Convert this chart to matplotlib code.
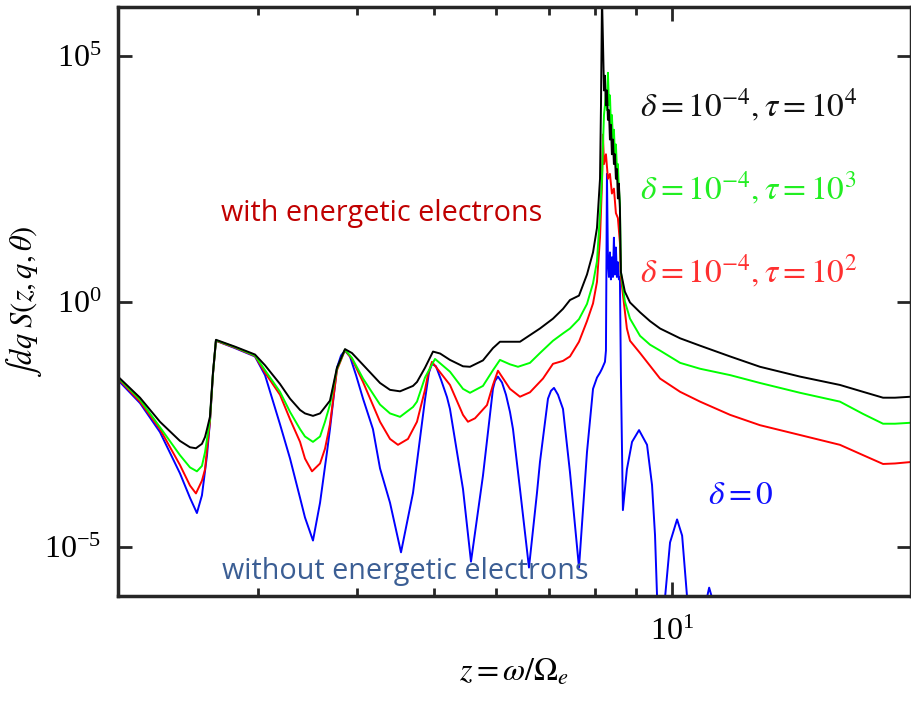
import numpy as np
import matplotlib.pyplot as plt
from matplotlib.ticker import FixedLocator, LogLocator, NullLocator, NullFormatter

plt.rcParams['font.family'] = ['Liberation Serif', 'DejaVu Serif']
plt.rcParams['mathtext.fontset'] = 'stix'

# z = omega/Omega_e and log10 of the integrated spectrum
z_black = [2.000, 2.132, 2.259, 2.394, 2.465, 2.508, 2.552, 2.575, 2.590, 2.612, 2.635, 2.658,
           2.809, 2.977, 3.065, 3.201, 3.296, 3.393, 3.442, 3.523, 3.596, 3.669, 3.701, 3.777,
           3.866, 3.945, 4.074, 4.280, 4.406, 4.536, 4.710, 4.765, 4.877, 4.992, 5.096, 5.244,
           5.446, 5.558, 5.771, 5.941, 6.063, 6.426, 6.810, 7.072, 7.281, 7.430, 7.627, 7.806,
           7.944, 8.036, 8.107, 8.130, 8.154, 8.177, 8.201, 8.224, 8.248, 8.272, 8.296, 8.320,
           8.344, 8.368, 8.392, 8.417, 8.441, 8.465, 8.490, 8.515, 8.539, 8.564, 8.589, 8.614,
           8.714, 8.845, 9.106, 9.374, 9.651, 10.23, 10.84, 11.83, 12.90, 14.49, 16.27, 17.40,
           18.44, 19.09, 20.0]
logS_black = [-1.53, -1.96, -2.45, -2.84, -2.97, -2.99, -2.90, -2.76, -2.60, -2.35, -1.45, -0.78,
              -0.92, -1.08, -1.30, -1.68, -1.98, -2.21, -2.28, -2.33, -2.28, -2.10, -2.02, -1.35,
              -0.97, -1.05, -1.29, -1.66, -1.80, -1.83, -1.72, -1.64, -1.35, -1.02, -1.06, -1.19,
              -1.32, -1.33, -1.20, -0.95, -0.82, -0.82, -0.55, -0.35, -0.15, 0.03, 0.12, 0.55,
              1.00, 1.50, 2.50, 4.00, 6.20, 5.30, 4.30, 4.60, 4.00, 4.30, 3.70, 3.90,
              3.30, 3.60, 3.00, 3.30, 2.80, 3.00, 2.50, 2.70, 2.10, 2.40, 1.90, 0.60,
              0.20, -0.02, -0.22, -0.40, -0.55, -0.75, -0.90, -1.12, -1.33, -1.53, -1.70, -1.84,
              -1.96, -1.96, -1.94]

z_green = [2.000, 2.132, 2.259, 2.394, 2.465, 2.515, 2.552, 2.575, 2.590, 2.612, 2.635, 2.658,
           2.809, 2.977, 3.065, 3.201, 3.296, 3.393, 3.442, 3.523, 3.596, 3.648, 3.701, 3.777,
           3.866, 3.945, 4.074, 4.280, 4.406, 4.536, 4.710, 4.765, 4.877, 5.021, 5.244, 5.446,
           5.558, 5.771, 5.941, 6.063, 6.242, 6.389, 6.615, 6.810, 7.072, 7.281, 7.430, 7.627,
           7.806, 7.944, 8.036, 8.107, 8.154, 8.177, 8.201, 8.224, 8.248, 8.272, 8.296, 8.320,
           8.344, 8.368, 8.392, 8.417, 8.441, 8.465, 8.490, 8.515, 8.539, 8.564, 8.589, 8.614,
           8.714, 8.845, 9.106, 9.374, 9.651, 10.23, 10.84, 11.83, 12.90, 14.49, 16.27, 17.40,
           18.44, 19.09, 20.0]
logS_green = [-1.55, -2.00, -2.56, -3.13, -3.38, -3.46, -3.35, -3.07, -2.80, -2.40, -1.47, -0.79,
              -0.93, -1.10, -1.40, -1.84, -2.25, -2.60, -2.75, -2.86, -2.75, -2.45, -2.10, -1.37,
              -0.98, -1.15, -1.57, -2.10, -2.28, -2.35, -2.15, -2.04, -1.55, -1.17, -1.43, -1.78,
              -1.86, -1.72, -1.40, -1.19, -1.28, -1.33, -1.25, -1.05, -0.80, -0.65, -0.55, -0.36,
              -0.05, 0.37, 0.82, 1.78, 2.50, 3.20, 3.80, 4.00, 4.30, 3.90, 4.66, 4.00,
              4.20, 3.60, 3.80, 3.30, 3.50, 3.00, 3.20, 2.70, 2.80, 2.30, 2.00, 0.60,
              0.00, -0.35, -0.70, -0.88, -1.00, -1.25, -1.37, -1.50, -1.66, -1.86, -2.04, -2.29,
              -2.49, -2.49, -2.47]

z_red = [2.000, 2.132, 2.259, 2.394, 2.465, 2.508, 2.552, 2.575, 2.590, 2.612, 2.635, 2.658,
         2.809, 2.977, 3.065, 3.201, 3.296, 3.393, 3.442, 3.513, 3.596, 3.648, 3.701, 3.777,
         3.866, 3.945, 4.074, 4.280, 4.406, 4.509, 4.642, 4.765, 4.877, 4.919, 4.977, 5.244,
         5.446, 5.525, 5.639, 5.839, 5.941, 6.028, 6.242, 6.426, 6.615, 6.870, 7.072, 7.281,
         7.430, 7.627, 7.806, 7.944, 8.036, 8.107, 8.154, 8.177, 8.201, 8.248, 8.296, 8.344,
         8.392, 8.441, 8.490, 8.539, 8.589, 8.614, 8.714, 8.765, 8.845, 9.106, 9.651, 10.23,
         10.84, 11.83, 12.90, 14.49, 16.27, 17.40, 18.44, 19.09, 20.0]
logS_red = [-1.57, -2.04, -2.60, -3.33, -3.75, -3.91, -3.65, -3.42, -3.00, -2.45, -1.48, -0.80,
            -0.94, -1.11, -1.45, -1.90, -2.40, -2.86, -3.20, -3.46, -3.30, -3.00, -2.50, -1.40,
            -0.99, -1.17, -1.64, -2.45, -2.80, -2.92, -2.80, -2.45, -1.80, -1.49, -1.23, -1.70,
            -2.31, -2.45, -2.38, -2.11, -1.70, -1.41, -1.78, -1.94, -1.85, -1.57, -1.27, -1.21,
            -1.12, -0.82, -0.40, -0.04, 0.40, 1.30, 2.40, 3.40, 2.80, 3.00, 2.50, 2.60,
            2.20, 2.30, 1.80, 1.70, 1.20, 0.50, -0.20, -0.55, -0.80, -1.05, -1.57, -1.84,
            -2.04, -2.31, -2.52, -2.72, -2.92, -3.13, -3.31, -3.30, -3.27]

z_blue = [2.000, 2.132, 2.259, 2.394, 2.465, 2.515, 2.552, 2.590, 2.612, 2.635, 2.658,
          2.809, 2.977, 3.065, 3.201, 3.296, 3.393, 3.442, 3.523, 3.596, 3.669, 3.701, 3.777,
          3.822, 3.866, 3.922, 3.992, 4.074, 4.193, 4.280, 4.406, 4.549, 4.710, 4.765, 4.877,
          4.933, 4.977, 5.035, 5.111, 5.199, 5.244, 5.446, 5.574, 5.771, 5.941, 5.976, 6.028,
          6.099, 6.170, 6.242, 6.297, 6.426, 6.596, 6.751, 6.810, 6.970, 7.031, 7.093, 7.176,
          7.281, 7.430, 7.627, 7.806, 7.944, 8.036, 8.107, 8.154, 8.224, 8.248, 8.272, 8.296,
          8.320, 8.344, 8.368, 8.392, 8.417, 8.441, 8.465, 8.490, 8.515, 8.539, 8.564, 8.589,
          8.614, 8.664, 8.765, 8.897, 9.080, 9.293, 9.429, 9.511, 9.567, 9.679, 9.792, 9.935,
          10.14, 10.29, 10.44, 10.68, 11.06, 11.13, 11.22, 11.49, 20.0]
logS_blue = [-1.60, -2.07, -2.66, -3.50, -4.00, -4.31, -3.95, -3.13, -2.45, -1.48, -0.80,
             -0.95, -1.12, -1.50, -2.50, -3.20, -4.00, -4.40, -4.87, -4.10, -3.07, -2.60, -1.35,
             -1.10, -1.00, -1.12, -1.50, -1.98, -2.60, -3.40, -4.10, -5.11, -3.90, -3.27, -2.00,
             -1.45, -1.27, -1.32, -1.60, -1.95, -2.19, -3.82, -5.30, -3.55, -1.78, -1.62, -1.53,
             -1.65, -1.90, -2.25, -2.60, -3.82, -5.42, -3.90, -3.27, -1.98, -1.82, -1.76, -1.90,
             -2.19, -3.48, -5.42, -3.07, -1.78, -1.55, -1.45, -1.37, -1.23, -1.00, 2.60, 0.80,
             0.50, 1.00, 0.45, 0.90, 0.50, 1.30, 0.55, 1.10, 0.50, 0.80, 0.45, 0.50,
             -1.50, -4.25, -3.42, -2.86, -2.62, -2.92, -3.74, -4.76, -6.00, -8.00, -6.03, -4.91,
             -4.44, -4.77, -6.03, -8.00, -6.03, -5.83, -6.03, -8.00, -9.00]

fig = plt.figure(figsize=(9.12, 7.02), dpi=100)
ax = fig.add_axes([118/912, 1 - 596/702, 793/912, 589/702])

ax.plot(z_blue, 10.0 ** np.array(logS_blue), color='#0000ff', lw=1.4)
ax.plot(z_red, 10.0 ** np.array(logS_red), color='#ff0000', lw=1.4)
ax.plot(z_green, 10.0 ** np.array(logS_green), color='#00ff00', lw=1.4)
ax.plot(z_black, 10.0 ** np.array(logS_black), color='#000000', lw=1.4)

ax.set_xscale('log')
ax.set_yscale('log')
ax.set_xlim(2, 20)
ax.set_ylim(1e-6, 1e6)

ax.yaxis.set_major_locator(FixedLocator([1e-5, 1e0, 1e5]))
ax.yaxis.set_minor_locator(NullLocator())
ax.xaxis.set_major_locator(FixedLocator([10]))
ax.xaxis.set_minor_locator(LogLocator(base=10, subs=np.arange(2, 10), numticks=20))
ax.xaxis.set_minor_formatter(NullFormatter())

ax.tick_params(which='both', direction='in', top=True, right=True, width=2, color='#262626',
               labelsize=23)
ax.tick_params(which='major', length=10)
ax.tick_params(which='minor', length=6)
ax.tick_params(axis='y', pad=12)
ax.tick_params(axis='x', pad=16)
for s in ax.spines.values():
    s.set_linewidth(2.5)
    s.set_color('#262626')

ax.set_xlabel(r'$z = \omega/\Omega_e$', fontsize=23)
ax.set_ylabel(r'$\int dq\; S(z,q,\theta)$', fontsize=22)
ax.xaxis.set_label_coords(0.5, -0.105)
ax.yaxis.set_label_coords(-0.093, 0.5)

ax.text(0.658, 0.834, r'$\delta = 10^{-4}, \tau = 10^{4}$', color='#111111', fontsize=24,
        transform=ax.transAxes, va='center')
ax.text(0.658, 0.693, r'$\delta = 10^{-4}, \tau = 10^{3}$', color='#22ee22', fontsize=24,
        transform=ax.transAxes, va='center')
ax.text(0.658, 0.553, r'$\delta = 10^{-4}, \tau = 10^{2}$', color='#ff3030', fontsize=24,
        transform=ax.transAxes, va='center')
ax.text(0.744, 0.171, r'$\delta = 0$', color='#1010ff', fontsize=24,
        transform=ax.transAxes, va='center')

ax.text(0.333, 0.650, 'with energetic electrons', color='#c00000', fontsize=20.7,
        family=['Open Sans', 'DejaVu Sans'], transform=ax.transAxes, ha='center', va='center')
ax.text(0.362, 0.041, 'without energetic electrons', color='#3b5e94', fontsize=20.7,
        family=['Open Sans', 'DejaVu Sans'], transform=ax.transAxes, ha='center', va='center')

fig.savefig('out.png', dpi=100)
